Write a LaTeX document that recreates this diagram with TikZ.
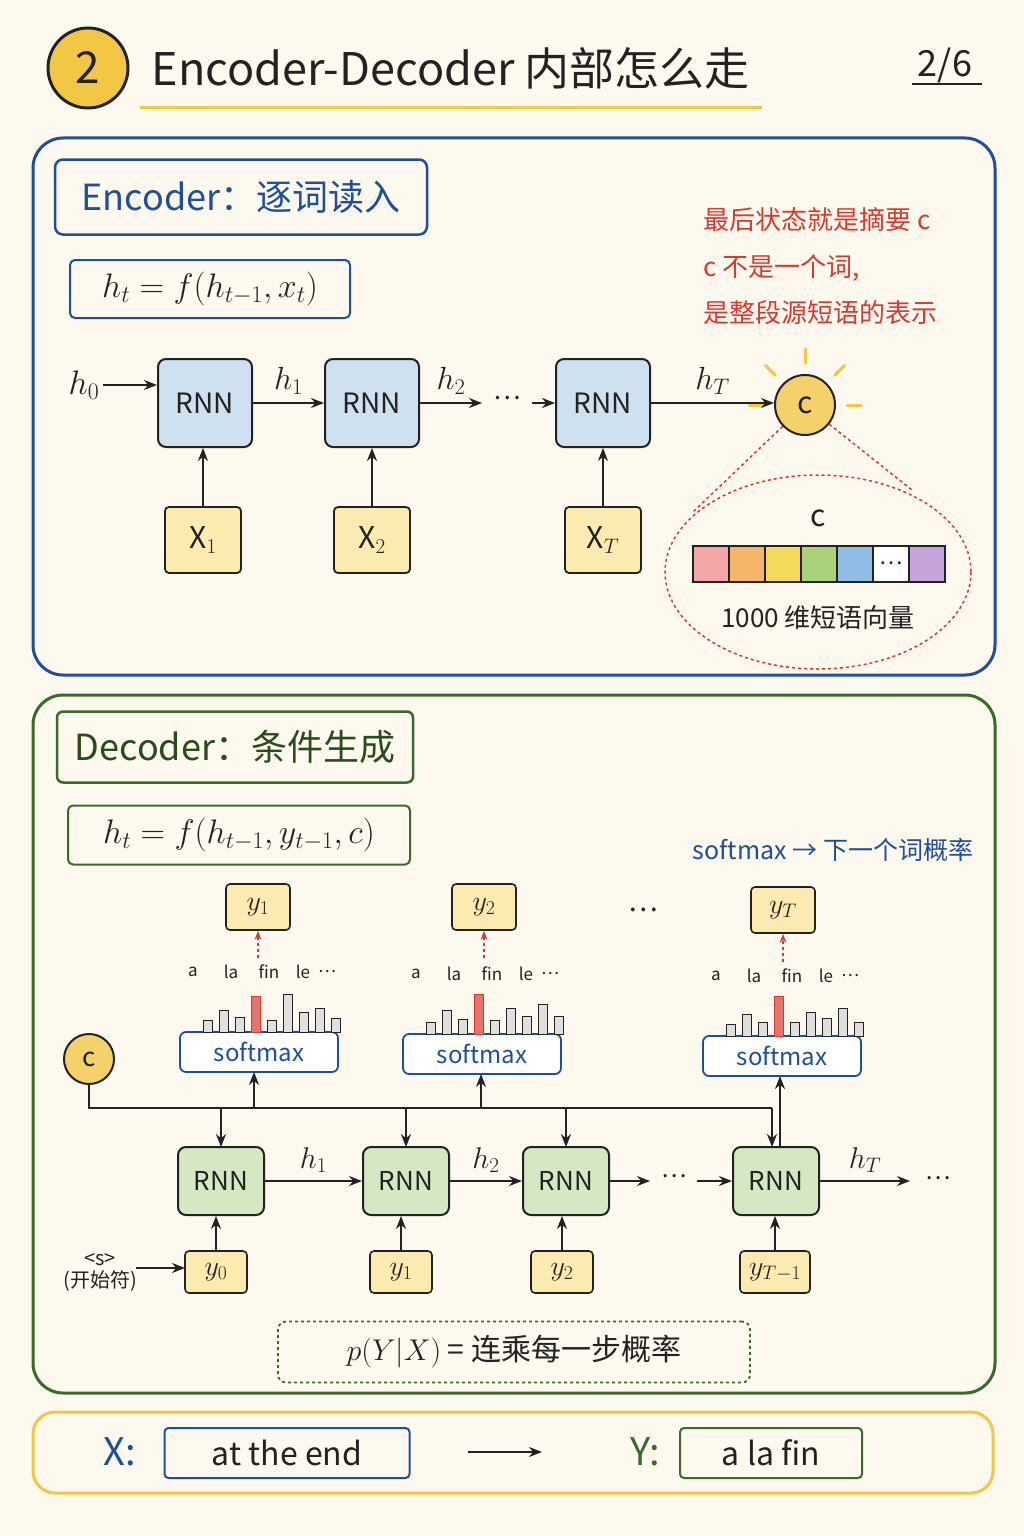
\documentclass[tikz,border=0pt]{standalone}
\usepackage{fix-cm}
\usepackage{fontspec}
\setmainfont{Noto Sans CJK SC}
\usetikzlibrary{arrows.meta,calc}
\definecolor{bg}{HTML}{FDF9EF}
\definecolor{eb}{HTML}{1F4E9C}
\definecolor{dg}{HTML}{3A6B2A}
\definecolor{yl}{HTML}{F2C744}
\definecolor{ylf}{HTML}{FBEBB0}
\definecolor{bf}{HTML}{CFE0F0}
\definecolor{gf}{HTML}{D5E8C4}
\definecolor{rd}{HTML}{D93A30}
\definecolor{ink}{HTML}{222222}
\newcommand{\fs}[1]{\fontsize{#1}{#1}\selectfont}
\tikzset{
 every node/.style={text=ink},
 arr/.style={-{Stealth[length=13pt,width=10pt]},line width=2pt,draw=ink},
 rnnb/.style={draw=ink,line width=2pt,rounded corners=8pt,fill=bf,minimum width=94pt,minimum height=88pt,font=\fs{28}},
 rnng/.style={draw=ink,line width=2pt,rounded corners=8pt,fill=gf,minimum width=86pt,minimum height=68pt,font=\fs{26}},
 xin/.style={draw=ink,line width=1.8pt,rounded corners=4pt,fill=ylf,minimum width=76pt,minimum height=66pt,font=\fs{30}},
 yin/.style={draw=ink,line width=1.6pt,rounded corners=4pt,fill=ylf,minimum width=62pt,minimum height=42pt,font=\fs{28}},
 yout/.style={draw=ink,line width=1.6pt,rounded corners=4pt,fill=ylf,minimum width=64pt,minimum height=46pt,font=\fs{28}},
 cc/.style={circle,draw=ink,line width=2pt,fill=yl!80,font=\fs{30}},
 smx/.style={draw=eb,line width=1.8pt,rounded corners=6pt,fill=white,minimum width=158pt,minimum height=40pt,font=\fs{24},text=eb},
 wl/.style={font=\fs{17}\itshape},
 rdd/.style={-{Stealth[length=9pt]},draw=rd,line width=1.6pt,dashed},
}
\begin{document}
\begin{tikzpicture}[x=1pt,y=-1pt]
\fill[bg] (0,0) rectangle (1024,1536);
\useasboundingbox (0,0) rectangle (1024,1536);
% title
\node[circle,draw=ink,line width=3pt,fill=yl,minimum size=80pt,font=\fs{44}] (n2) at (88,68) {2};
\node[anchor=west,font=\fs{45}] (ttl) at (148,68) {Encoder-Decoder 内部怎么走};
\draw[yl,line width=3pt] (140,108) -- (762,108);
\node[font=\fs{36}] (pg) at (945,65) {2/6};
\draw[ink,line width=2pt] (912,84) -- (982,84);
% encoder panel
\draw[eb,line width=3pt,rounded corners=30pt] (33,138) rectangle (995,675);
\node[draw=eb,line width=2.5pt,rounded corners=8pt,minimum width=372pt,minimum height=75pt,font=\fs{36},text=eb] (el) at (241,197) {Encoder：逐词读入};
\node[draw=eb,line width=2pt,rounded corners=5pt,minimum width=280pt,minimum height=58pt,font=\fs{34}] (ef) at (210,289) {$h_t = f(h_{t-1},x_t)$};
\node[anchor=west,text=rd,font=\fs{26}] (r1) at (700,220) {最后状态就是摘要 c};
\node[anchor=west,text=rd,font=\fs{26}] (r2) at (700,268) {c 不是一个词,};
\node[anchor=west,text=rd,font=\fs{26}] (r3) at (700,313) {是整段源短语的表示};
\node[rnnb] (e1) at (205,403) {RNN};
\node[rnnb] (e2) at (372,403) {RNN};
\node[rnnb] (e3) at (603,403) {RNN};
\node[cc,minimum size=60pt] (c1) at (805,405) {c};
\foreach \a in {90,135,45,0,180}{\draw[yl,line width=3pt,line cap=round] ($(c1)+(\a-180:-42pt)$) -- ($(c1)+(\a-180:-56pt)$);}
\node[xin] (x1) at (203,540) {$\mathrm{X}_1$};
\node[xin] (x2) at (372,540) {$\mathrm{X}_2$};
\node[xin] (x3) at (603,540) {$\mathrm{X}_T$};
\node[font=\fs{34}] (h0) at (84,385) {$h_0$};
\draw[arr] (h0.east) -- (e1.west|-h0.east);
\draw[arr] (e1) -- (e2) node[midway,above=4pt,font=\fs{32}] {$h_1$};
\coordinate (dd) at (530,403);
\draw[arr] (e2.east) -- (482,403) node[midway,above=4pt,font=\fs{32}] {$h_2$};
\node[font=\fs{26}] (dots1) at (507,398) {…};
\draw[arr] (532,403) -- (e3.west|-dd);
\draw[arr] (e3.east) -- (c1.west|-e3.east) node[midway,above=4pt,font=\fs{32}] {$h_T$};
\draw[arr] (x1) -- (x1|-e1.south);
\draw[arr] (x2) -- (x2|-e2.south);
\draw[arr] (x3) -- (x3|-e3.south);
\draw[rd,line width=1.5pt,dashed] (818,572) ellipse (153 and 97);
\draw[rd,line width=1.5pt,dashed] (c1) -- (693,512);
\draw[rd,line width=1.5pt,dashed] (c1) -- (912,490);
\node[font=\fs{30}] (cl) at (818,518) {c};
\foreach \col [count=\k] in {F4A6A6,F5B66A,F5D95A,A9D27A,8FBCE3,FFFFFF,C5A3DB}{
  \definecolor{cellc}{HTML}{\col}
  \fill[cellc] (693+36*\k-36,546) rectangle (693+36*\k,582);}
\draw[ink,line width=1.8pt] (693,546) rectangle (945,582);
\foreach \k in {1,...,6}{\draw[ink,line width=1.2pt] (693+36*\k,546) -- (693+36*\k,582);}
\node[font=\fs{22}] (vd) at (891,563) {…};
\node[font=\fs{26}] (vl) at (818,618) {1000 维短语向量};
% decoder panel
\draw[dg,line width=3pt,rounded corners=30pt] (33,695) rectangle (995,1393);
\node[draw=dg,line width=2.5pt,rounded corners=6pt,minimum width=356pt,minimum height=71pt,font=\fs{36},text=dg!70!black] (dl) at (235,747) {Decoder：条件生成};
\node[draw=dg,line width=2pt,rounded corners=5pt,minimum width=342pt,minimum height=59pt,font=\fs{34}] (df) at (239,835) {$h_t = f(h_{t-1},y_{t-1},c)$};
\node[text=eb,font=\fs{25}] (sm) at (833,850) {softmax → 下一个词概率};
\node[yout] (o1) at (258,907) {$y_1$};
\node[yout] (o2) at (484,907) {$y_2$};
\node[yout] (o3) at (783,910) {$y_T$};
\node[font=\fs{28}] (dots2) at (643,910) {…};
% softmax groups
\foreach \sx/\sy/\nm in {259/1052/s1,482/1054/s2,782/1056/s3}{
  \node[smx] (\nm) at (\sx,\sy) {softmax};
  \foreach \w/\dx in {a/-66,la/-28,fin/10,le/44,…/68}{\node[wl] at (\sx+\dx,\sy-80) {\w};}
}
\foreach \sx/\sy/\hs in {259/1032/{12,22,15,36,12,38,20,24,14},482/1034/{12,24,15,40,14,26,18,30,18},782/1036/{12,22,14,40,14,24,18,28,14}}{
  \foreach \h [count=\k] in \hs{
    \pgfmathsetmacro{\xx}{\sx-72+16*\k}
    \ifnum\k=4 \fill[rd!70,draw=rd,line width=1pt] (\xx,\sy) rectangle (\xx+9,\sy-\h);
    \else \fill[gray!25,draw=ink,line width=1pt] (\xx,\sy) rectangle (\xx+9,\sy-\h);\fi
  }}
\draw[rdd] (258,958) -- (o1);
\draw[rdd] (484,958) -- (o2);
\draw[rdd] (783,962) -- (o3);
\node[cc,minimum size=50pt,font=\fs{26}] (c2) at (89,1059) {c};
\node[rnng] (d1) at (221,1181) {RNN};
\node[rnng] (d2) at (406,1181) {RNN};
\node[rnng] (d3) at (566,1181) {RNN};
\node[rnng] (d4) at (776,1181) {RNN};
\draw[ink,line width=2pt] (c2.south) |- (772,1108);
\foreach \n/\xx in {d1/221,d2/406,d3/566,d4/772}{\draw[arr] (\xx,1108) -- (\xx,1147);}
\draw[arr] (254,1108) -- (254,1072);
\draw[arr] (481,1108) -- (481,1074);
\draw[arr] (780,1147) -- (780,1076);
\node[yin] (i1) at (216,1272) {$y_0$};
\node[yin] (i2) at (401,1272) {$y_1$};
\node[yin] (i3) at (562,1272) {$y_2$};
\node[yin,minimum width=70pt] (i4) at (775,1272) {$y_{T-1}$};
\draw[arr] (i1.north) -- (i1.north|-d1.south);
\draw[arr] (i2.north) -- (i2.north|-d2.south);
\draw[arr] (i3.north) -- (i3.north|-d3.south);
\draw[arr] (i4.north) -- (i4.north|-d4.south);
\draw[arr] (d1) -- (d2) node[midway,above=4pt,font=\fs{30}] {$h_1$};
\draw[arr] (d2) -- (d3) node[midway,above=4pt,font=\fs{30}] {$h_2$};
\coordinate (ed) at (650,1181);
\draw[arr] (d3.east) -- (ed);
\node[font=\fs{24}] (dots3) at (674,1176) {…};
\draw[arr] (697,1181) -- (d4.west|-ed);
\coordinate (hend) at (910,1181);
\draw[arr] (d4.east) -- (hend) node[midway,above=4pt,font=\fs{30}] {$h_T$};
\node[font=\fs{24}] (dots4) at (938,1178) {…};
\node[font=\fs{20},align=center] (st) at (100,1272) {<s>\\[2pt](开始符)};
\draw[arr] (136,1268) -- (185,1268);
\node[draw=dg,line width=1.8pt,dashed,rounded corners=8pt,minimum width=472pt,minimum height=61pt,font=\fs{30}] (py) at (514,1352) {$p(Y|X)$ = 连乘每一步概率};
% bottom panel
\draw[yl,line width=3pt,rounded corners=22pt] (33,1412) rectangle (993,1493);
\node[text=eb,font=\fs{38}] (xl) at (120,1452) {X:};
\node[draw=eb,line width=2pt,rounded corners=4pt,minimum width=245pt,minimum height=50pt,font=\fs{32}\itshape] (xb) at (287,1453) {at the end};
\coordinate (ar1) at (468,1452);
\coordinate (ar2) at (542,1452);
\draw[arr] (ar1) -- (ar2);
\node[text=dg,font=\fs{38}] (yl2) at (645,1452) {Y:};
\node[draw=dg,line width=2pt,rounded corners=4pt,minimum width=182pt,minimum height=50pt,font=\fs{32}\itshape] (yb) at (771,1453) {a la fin};
\end{tikzpicture}
\end{document}
